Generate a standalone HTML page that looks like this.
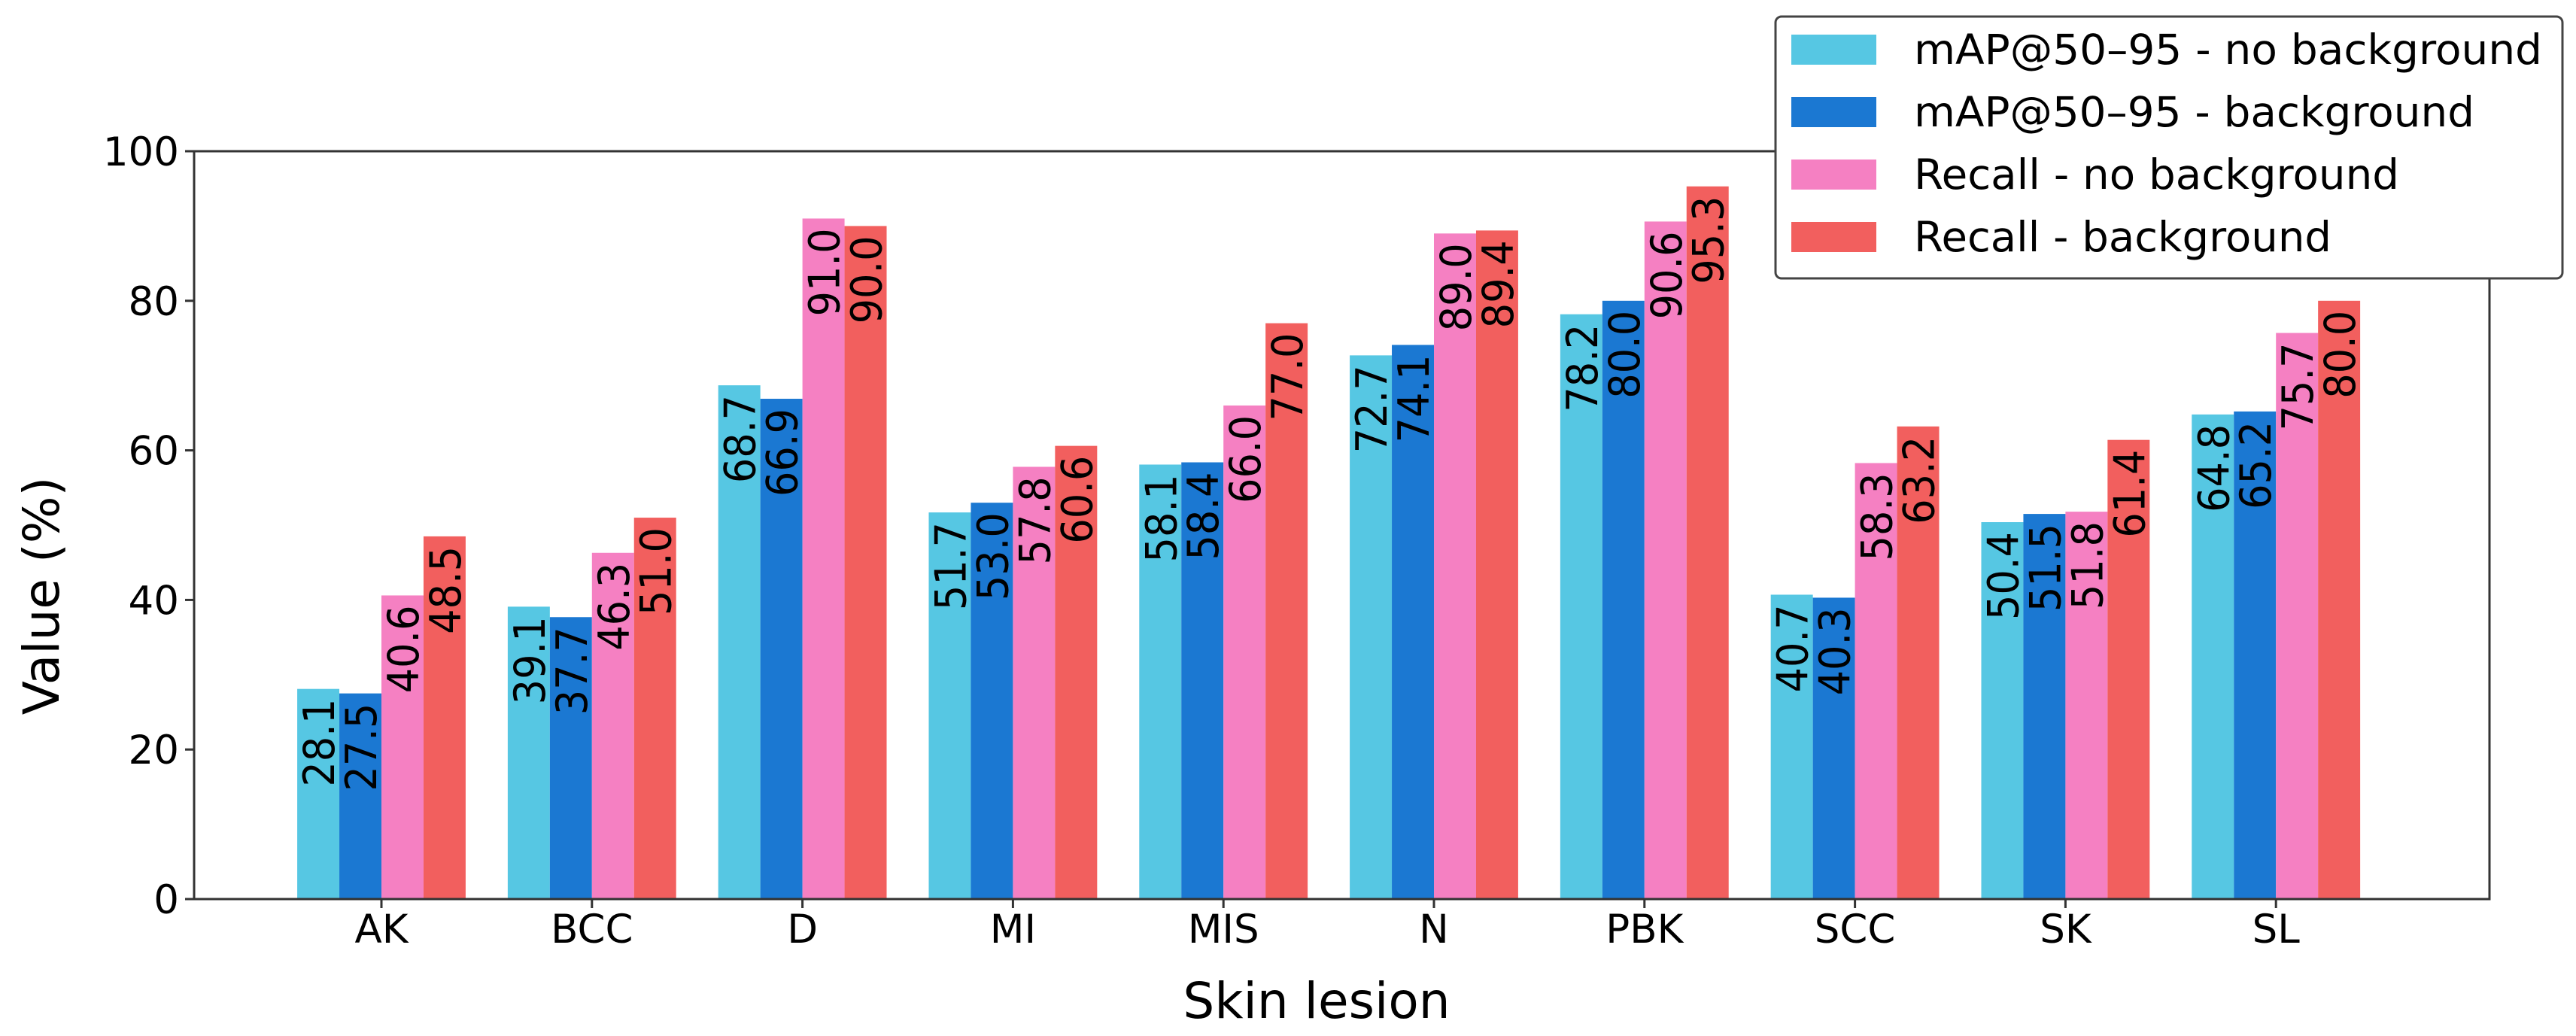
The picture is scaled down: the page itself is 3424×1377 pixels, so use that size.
<!DOCTYPE html>
<html><head><meta charset="utf-8"><style>
html,body{margin:0;padding:0;background:#fff;}
svg{display:block;}
text{font-family:"DejaVu Sans","Liberation Sans",sans-serif;fill:#000;}
</style></head><body>
<svg id="chart" width="3424" height="1377" viewBox="0 0 3424 1377" xmlns="http://www.w3.org/2000/svg">
<g id="bars"></g>
<g id="axes"></g>
<g id="legend"></g>
</svg>
<script>
const categories = ["AK","BCC","D","MI","MIS","N","PBK","SCC","SK","SL"];
const mapNoBg = [28.1,39.1,68.7,51.7,58.1,72.7,78.2,40.7,50.4,64.8];
const mapBg = [27.5,37.7,66.9,53.0,58.4,74.1,80.0,40.3,51.5,65.2];
const recallNoBg = [40.6,46.3,91.0,57.8,66.0,89.0,90.6,58.3,51.8,75.7];
const recallBg = [48.5,51.0,90.0,60.6,77.0,89.4,95.3,63.2,61.4,80.0];
const seriesNames = ["mAP@50–95 - no background","mAP@50–95 - background","Recall - no background","Recall - background"];
const yTicks = [0,20,40,60,80,100];

const NS = "http://www.w3.org/2000/svg";
const colors = ["#56C7E3","#1B78D2","#F580C2","#F25F5E"];
const series = [mapNoBg, mapBg, recallNoBg, recallBg];
const L = 258, R = 3309, T = 201, B = 1195;
const x0 = 507, unit = 279.8;
function xScale(i){ return x0 + i*unit; }
function yScale(v){ return B - (v/100)*(B-T); }
function mk(tag, attrs, parent){ const e=document.createElementNS(NS,tag); for(const k in attrs) e.setAttribute(k,attrs[k]); parent.appendChild(e); return e; }

const barsG = document.getElementById('bars');
const bw = 0.2*unit;
series.forEach((vals, s) => {
  vals.forEach((v, i) => {
    const cx = xScale(i) + (s-1.5)*bw;
    const r = mk('rect',{x:cx-bw/2,y:yScale(v),width:bw,height:B-yScale(v),fill:colors[s]},barsG);
    
    
    const t = mk('text',{transform:`translate(${cx+21},${yScale(v)+13}) rotate(-90)`,'text-anchor':'end','font-size':57,textLength:117,lengthAdjust:'spacingAndGlyphs'},barsG);
    t.textContent = v.toFixed(1);
    
    
  });
});

const ax = document.getElementById('axes');
const frame = mk('rect',{x:L,y:T,width:R-L,height:B-T,fill:'none',stroke:'#333',"stroke-width":3},ax);


yTicks.forEach(v => {
  const y = yScale(v);
  mk('line',{x1:L-12,x2:L,y1:y,y2:y,stroke:'#333','stroke-width':3},ax);
  const t = mk('text',{x:L-20,y:y+19,'text-anchor':'end','font-size':53},ax);
  t.textContent = v;
  
  
});
categories.forEach((c, i) => {
  const x = xScale(i);
  mk('line',{x1:x,x2:x,y1:B,y2:B+12,stroke:'#333','stroke-width':3},ax);
  const t = mk('text',{x:x,y:1253,'text-anchor':'middle','font-size':53},ax);
  t.textContent = c;
  
  
});
const yt = mk('text',{transform:'translate(78,792) rotate(-90)','text-anchor':'middle','font-size':66},ax);
yt.textContent = 'Value (%)';


const xt = mk('text',{x:1750,y:1353,'text-anchor':'middle','font-size':66},ax);
xt.textContent = 'Skin lesion';



const lg = document.getElementById('legend');
const box = mk('rect',{x:2360,y:22,width:3406-2360,height:348,rx:8,fill:'#fff',stroke:'#444','stroke-width':3},lg);


const rowY = [66,149,232,315];
const textW = [835,745,645,555];
seriesNames.forEach((n, s) => {
  const y = rowY[s];
  const p = mk('rect',{x:2381,y:y-20,width:113,height:40,fill:colors[s]},lg);
  
  
  const t = mk('text',{x:2544,y:y+19,'font-size':55,textLength:textW[s],lengthAdjust:'spacingAndGlyphs'},lg);
  t.textContent = n;
  
  
});
</script>
</body></html>
